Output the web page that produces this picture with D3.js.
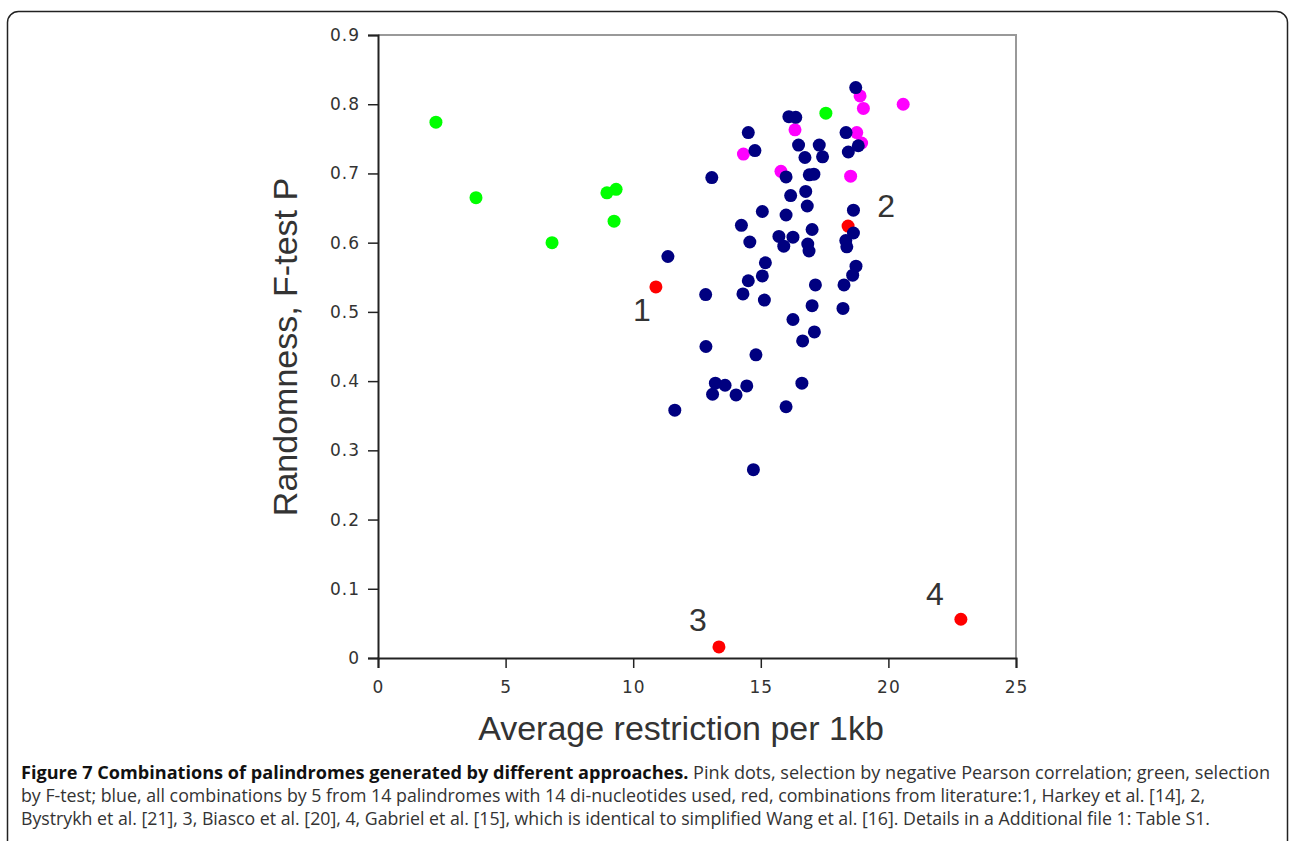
<!DOCTYPE html>
<html>
<head>
<script src="https://d3js.org/d3.v7.min.js"></script>
<style>
  body { margin: 0; background-color: white; }
  svg text { font-family: 'Liberation Sans', Arial, sans-serif; }
  svg text.caption { font-family: 'Open Sans', sans-serif; font-size: 18px; }
</style>
</head>
<body>
<svg id="chart" width="1289" height="841"></svg>
<script>
// values: [average restriction per 1kb, F-test P]
var pinkPoints = [
  [18.89, 0.812], [19.02, 0.794], [20.58, 0.800], [16.34, 0.763], [18.76, 0.759],
  [18.95, 0.744], [14.32, 0.728], [15.79, 0.703], [18.52, 0.696]
];
var greenPoints = [
  [2.27, 0.774], [3.84, 0.665], [6.82, 0.600], [8.97, 0.672], [9.33, 0.677],
  [9.25, 0.631], [17.55, 0.787]
];
var redPoints = [
  [10.89, 0.536], [18.42, 0.624], [13.36, 0.016], [22.84, 0.056]
];
var redLabels = ['1', '2', '3', '4'];
var bluePoints = [
  [18.72, 0.824], [16.10, 0.782], [16.37, 0.781], [14.51, 0.759], [18.34, 0.759],
  [14.77, 0.733], [16.48, 0.741], [17.29, 0.741], [17.42, 0.724], [16.73, 0.723],
  [18.43, 0.731], [18.82, 0.740], [13.08, 0.694], [15.99, 0.695], [16.90, 0.698],
  [17.08, 0.699], [16.17, 0.668], [16.76, 0.674], [16.82, 0.653], [18.63, 0.647],
  [15.06, 0.645], [15.99, 0.640], [14.24, 0.625], [17.01, 0.619], [18.63, 0.614],
  [14.57, 0.601], [15.71, 0.609], [16.26, 0.608], [15.90, 0.595], [16.84, 0.598],
  [16.89, 0.588], [18.33, 0.603], [18.37, 0.594], [11.36, 0.580], [15.18, 0.571],
  [18.73, 0.566], [18.60, 0.553], [18.26, 0.539], [17.14, 0.539], [15.06, 0.552],
  [14.51, 0.545], [14.30, 0.526], [15.14, 0.517], [12.84, 0.525], [17.01, 0.509],
  [18.22, 0.505], [16.26, 0.489], [17.10, 0.471], [16.64, 0.458], [12.85, 0.450],
  [14.81, 0.438], [13.22, 0.397], [13.60, 0.394], [14.45, 0.393], [16.61, 0.397],
  [13.11, 0.381], [14.03, 0.380], [15.99, 0.363], [11.63, 0.358], [14.71, 0.272]
];
var xTicks = [0, 5, 10, 15, 20, 25];
var yTicks = [0, 0.1, 0.2, 0.3, 0.4, 0.5, 0.6, 0.7, 0.8, 0.9];
var xTitle = 'Average restriction per 1kb';
var yTitle = 'Randomness,  F-test P';
var captionBold = 'Figure 7 Combinations of palindromes generated by different approaches.';
var captionLines = [
  ' Pink dots, selection by negative Pearson correlation; green, selection',
  'by F-test; blue, all combinations by 5 from 14 palindromes with 14 di-nucleotides used, red, combinations from literature:1, Harkey et al. [14], 2,',
  'Bystrykh et al. [21], 3, Biasco et al. [20], 4, Gabriel et al. [15], which is identical to simplified Wang et al. [16]. Details in a Additional file 1: Table S1.'
];

var svg = d3.select('#chart');

// outer figure frame
svg.append('rect')
  .attr('x', 7.5).attr('y', 11.5)
  .attr('width', 1280).attr('height', 900)
  .attr('rx', 11)
  .attr('fill', 'none')
  .attr('stroke', '#222')
  .attr('stroke-width', 1.5);

var plotLeft = 378, plotRight = 1016, plotTop = 35, plotBottom = 658;
var x = d3.scaleLinear().domain([0, 25]).range([plotLeft, plotRight]);
var y = d3.scaleLinear().domain([0, 0.9]).range([plotBottom, plotTop]);

// grey top/right border of the plot box
svg.append('path')
  .attr('d', 'M' + plotLeft + ',' + plotTop + 'H' + plotRight + 'V' + plotBottom)
  .attr('fill', 'none')
  .attr('stroke', '#999')
  .attr('stroke-width', 2);

var xAxis = svg.append('g')
  .attr('transform', 'translate(0,' + plotBottom + ')')
  .call(d3.axisBottom(x).tickValues(xTicks).tickSize(10).tickPadding(13).tickFormat(d3.format('d')));
var yAxis = svg.append('g')
  .attr('transform', 'translate(' + plotLeft + ',0)')
  .call(d3.axisLeft(y).tickValues(yTicks).tickSize(10).tickPadding(8)
    .tickFormat(function (d) { return d === 0 ? '0' : d3.format('.1f')(d); }));

[xAxis, yAxis].forEach(function (g) {
  g.select('.domain').attr('stroke', '#222').attr('stroke-width', 2);
  g.selectAll('.tick line').attr('stroke', '#222').attr('stroke-width', 1.5);
  g.selectAll('.tick text')
    .attr('fill', '#333')
    .style('font-family', "'DejaVu Sans', sans-serif")
    .style('font-size', '17px')
    .style('letter-spacing', '1px');
});

// axis titles
svg.append('text')
  .attr('x', 681)
  .attr('y', 740)
  .attr('text-anchor', 'middle')
  .attr('fill', '#333')
  .style('font-size', '34px')
  .text(xTitle);
svg.append('text')
  .attr('transform', 'translate(297,347) rotate(-90)')
  .attr('text-anchor', 'middle')
  .attr('fill', '#333')
  .style('font-size', '34px')
  .text(yTitle);

function drawDots(points, color) {
  svg.append('g')
    .selectAll('circle')
    .data(points)
    .join('circle')
    .attr('cx', function (d) { return x(d[0]); })
    .attr('cy', function (d) { return y(d[1]); })
    .attr('r', 6.5)
    .attr('fill', color);
}
drawDots(pinkPoints, '#ff00ff');
drawDots(greenPoints, '#00ff00');
drawDots(redPoints, '#ff0000');
drawDots(bluePoints, '#000080');

// number labels beside the literature (red) points
var labelOffsets = [[-14, 34], [38, -9], [-21, -16], [-26, -14]];
svg.append('g')
  .selectAll('text')
  .data(redPoints)
  .join('text')
  .attr('x', function (d, i) { return x(d[0]) + labelOffsets[i][0]; })
  .attr('y', function (d, i) { return y(d[1]) + labelOffsets[i][1]; })
  .attr('text-anchor', 'middle')
  .attr('fill', '#333')
  .style('font-size', '32px')
  .text(function (d, i) { return redLabels[i]; });

// caption
var line1 = svg.append('text')
  .attr('class', 'caption')
  .attr('x', 21).attr('y', 779)
  .attr('textLength', 1249)
  .attr('lengthAdjust', 'spacingAndGlyphs');
line1.append('tspan').attr('font-weight', 'bold').attr('fill', '#111').text(captionBold);
line1.append('tspan').attr('fill', '#333').text(captionLines[0]);
svg.append('text')
  .attr('class', 'caption')
  .attr('x', 21).attr('y', 802)
  .attr('textLength', 1184)
  .attr('lengthAdjust', 'spacingAndGlyphs')
  .attr('fill', '#333')
  .text(captionLines[1]);
svg.append('text')
  .attr('class', 'caption')
  .attr('x', 21).attr('y', 825)
  .attr('textLength', 1189)
  .attr('lengthAdjust', 'spacingAndGlyphs')
  .attr('fill', '#333')
  .text(captionLines[2]);
</script>
</body>
</html>
